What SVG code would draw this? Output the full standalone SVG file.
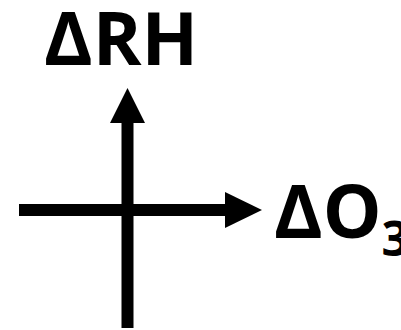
<svg xmlns="http://www.w3.org/2000/svg" width="401" height="330" viewBox="0 0 401 330">
<style>
.lbl{font-family:"Open Sans","Liberation Sans",sans-serif;font-weight:bold;fill:#000}
.ax{stroke:#000;stroke-width:12;fill:none}
</style>
<rect width="401" height="330" fill="#fff"/>
<g id="connectors">
<line class="ax" x1="127.5" y1="328" x2="127.5" y2="118"/>
<polygon points="127.5,88 145,123 110,123" fill="#000"/>
<line class="ax" x1="19" y1="210" x2="230" y2="210"/>
<polygon points="262,210 225,192 225,228" fill="#000"/>
</g>
<g id="label-rh">
<text class="lbl" x="44" y="65" font-size="74">ΔRH</text>
</g>
<g id="label-o3">
<text class="lbl" x="274" y="238" font-size="74">ΔO<tspan font-size="48" dy="18">3</tspan></text>
</g>
</svg>
